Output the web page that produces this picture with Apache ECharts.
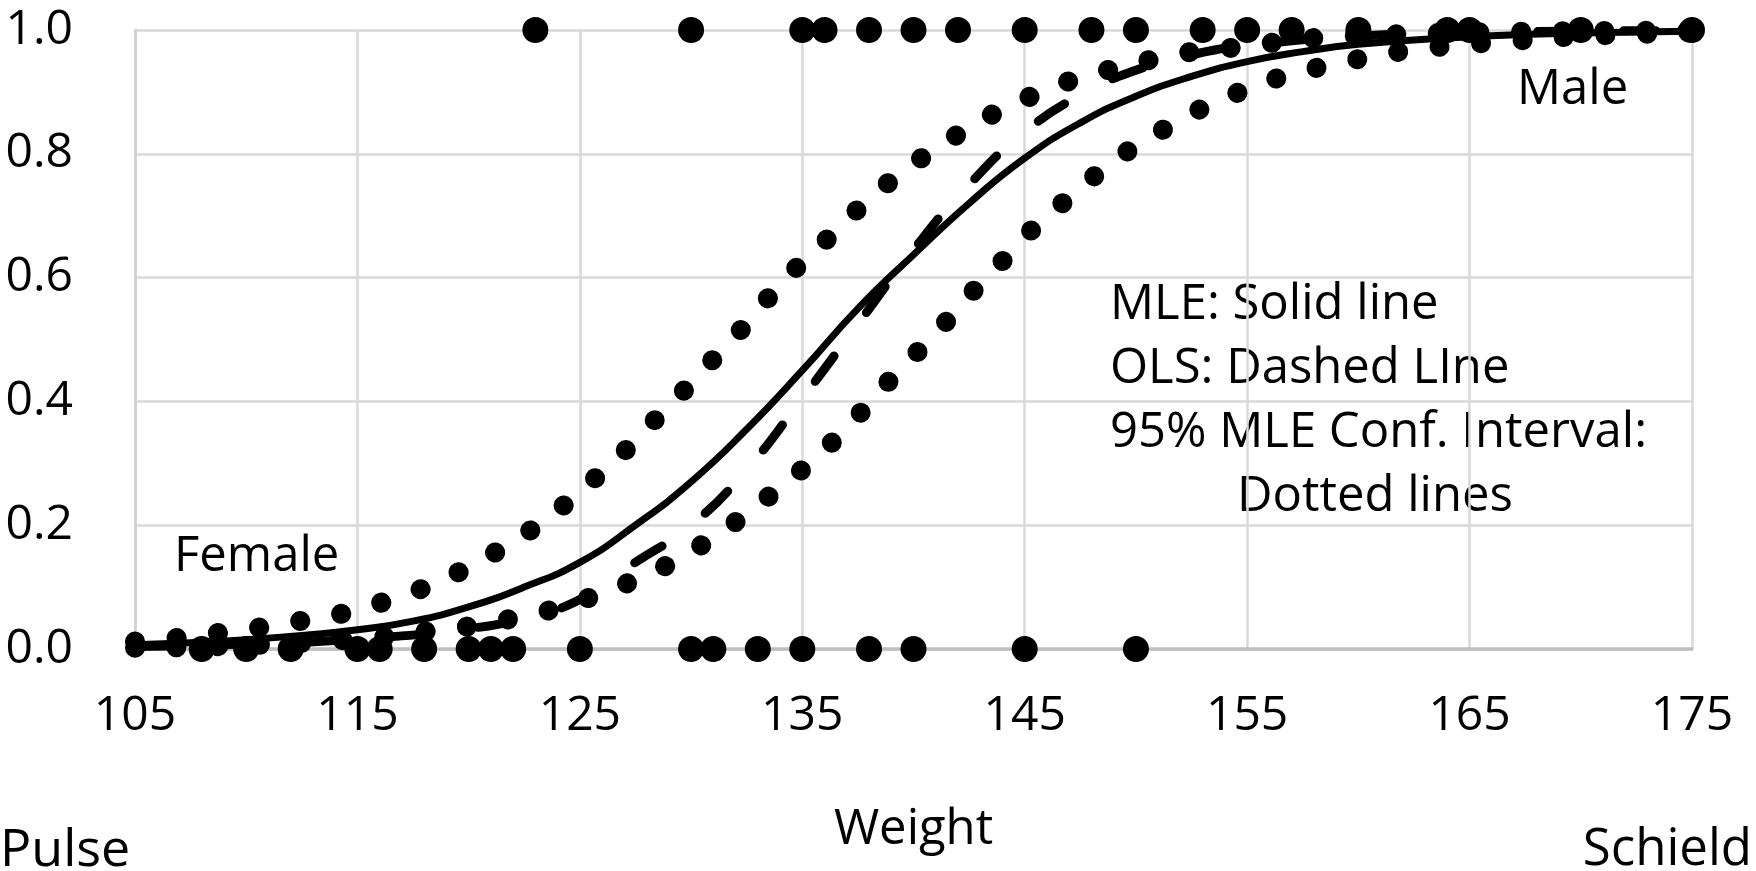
<!DOCTYPE html>
<html>
<head>
<meta charset="utf-8">
<script src="https://cdn.jsdelivr.net/npm/echarts@6.0.0/dist/echarts.min.js"></script>
<style>
  html, body { margin: 0; padding: 0; background: #fff; }
  #chart { width: 1756px; height: 871px; }
</style>
</head>
<body>
<div id="chart"></div>
<script>
// tick labels
const xTicks = [105, 115, 125, 135, 145, 155, 165, 175];

// observed cases, weight at 0 (female) and 1 (male)
const femaleWeights = [108, 110, 112, 115, 116, 118, 120, 121, 122, 125, 130, 131, 133, 135, 138, 140, 145, 150];
const maleWeights = [123, 130, 135, 136, 138, 140, 142, 145, 148, 150, 153, 155, 157, 160, 164, 165, 170, 175];

// MLE fit (solid)
const mleX = [105, 107.5, 110, 112.5, 115, 117.5, 120, 122.5, 125, 127.5, 130, 132.5, 135, 137.5, 140, 142.5, 145, 147.5, 150, 152.5, 155, 157.5, 160, 165, 170, 175];
const mleY = [0.007, 0.01, 0.015, 0.022, 0.031, 0.045, 0.068, 0.1, 0.14, 0.2, 0.27, 0.355, 0.45, 0.55, 0.637, 0.72, 0.793, 0.85, 0.893, 0.925, 0.949, 0.965, 0.977, 0.989, 0.995, 0.998];

// OLS fit (dashed)
const olsX = [105, 110, 115, 120, 122.5, 125, 127.5, 130, 132.5, 135, 137.5, 140, 142.5, 145, 147.5, 150, 152.5, 155, 160, 165, 175];
const olsY = [0.004, 0.008, 0.016, 0.033, 0.05, 0.08, 0.14, 0.2, 0.29, 0.405, 0.525, 0.645, 0.75, 0.835, 0.895, 0.935, 0.96, 0.975, 0.99, 0.996, 0.999];

// 95% MLE confidence interval (dotted)
const ciUpperX = [105, 106.4, 108.3, 110.1, 112, 113.9, 115.7, 117.5, 119.2, 120.9, 122.5, 124, 125.4, 126.8, 128.1, 129.4, 130.7, 132, 133.2, 134.4, 135.8, 137.1, 138.5, 140, 141.5, 143.1, 144.8, 146.5, 148.4, 150.2, 152, 154, 155.8, 157.7, 159.5, 165, 175];
const ciUpperY = [0.012, 0.016, 0.024, 0.032, 0.043, 0.054, 0.071, 0.092, 0.118, 0.15, 0.185, 0.224, 0.267, 0.312, 0.36, 0.407, 0.457, 0.506, 0.556, 0.604, 0.651, 0.697, 0.742, 0.784, 0.82, 0.855, 0.885, 0.911, 0.932, 0.948, 0.962, 0.97, 0.978, 0.986, 0.99, 0.996, 0.999];
const ciLowerX = [105, 110, 115, 118, 121.5, 125, 128.6, 130.3, 131.8, 133.3, 134.8, 136.2, 137.5, 138.7, 140, 141.3, 142.5, 143.8, 145, 146.4, 147.8, 149.3, 150.9, 152.5, 154.2, 156, 157.8, 159.7, 161.5, 163.4, 165.3, 167.2, 170, 175];
const ciLowerY = [0.002, 0.006, 0.016, 0.028, 0.046, 0.078, 0.13, 0.164, 0.2, 0.241, 0.284, 0.329, 0.377, 0.425, 0.473, 0.522, 0.571, 0.619, 0.666, 0.711, 0.754, 0.796, 0.832, 0.865, 0.893, 0.918, 0.936, 0.951, 0.963, 0.972, 0.978, 0.983, 0.99, 0.996];

function zip(xs, ys) {
  return xs.map(function (x, i) { return [x, ys[i]]; });
}

const font = 'Open Sans';
const txt = { fontFamily: font, fontSize: 49, fill: '#000' };
const dotted = { color: '#000', width: 20, type: [0.1, 41.5], cap: 'round' };

var myChart = echarts.init(document.getElementById('chart'));
var option = {
  animation: false,
  backgroundColor: '#fff',
  grid: { left: 135, right: 64, top: 30, bottom: 222 },
  xAxis: {
    type: 'value',
    min: 105,
    max: 175,
    name: 'Weight',
    nameLocation: 'middle',
    nameGap: 157,
    nameTextStyle: { fontFamily: font, fontSize: 49, color: '#000' },
    axisLine: { show: true, lineStyle: { color: '#bfbfbf', width: 3.5 } },
    axisTick: { show: false, customValues: xTicks },
    axisLabel: { customValues: xTicks, margin: 43, fontFamily: font, fontSize: 48, color: '#000' },
    splitLine: { show: true, lineStyle: { color: '#d9d9d9', width: 2.5 } }
  },
  yAxis: {
    type: 'value',
    min: 0,
    max: 1,
    interval: 0.2,
    axisLine: { show: true, lineStyle: { color: '#d0d0d0', width: 2.5 } },
    axisTick: { show: false },
    axisLabel: {
      margin: 62,
      fontFamily: font,
      fontSize: 48,
      color: '#000',
      formatter: function (v) { return v.toFixed(1); }
    },
    splitLine: { show: true, lineStyle: { color: '#d9d9d9', width: 2.5 } }
  },
  series: [
    {
      type: 'line', data: zip(ciUpperX, ciUpperY), smooth: 0.5,
      showSymbol: false, lineStyle: dotted, z: 3
    },
    {
      type: 'line', data: zip(ciLowerX, ciLowerY), smooth: 0.5,
      showSymbol: false, lineStyle: dotted, z: 3
    },
    {
      type: 'line', data: zip(olsX, olsY), smooth: 0.5,
      showSymbol: false, lineStyle: { color: '#000', width: 9, type: [32, 54], cap: 'round' }, z: 3
    },
    {
      type: 'line', data: zip(mleX, mleY), smooth: 0.5,
      showSymbol: false, lineStyle: { color: '#000', width: 7 }, z: 4
    },
    {
      type: 'scatter', data: femaleWeights.map(function (w) { return [w, 0]; }),
      symbolSize: 26, itemStyle: { color: '#000', opacity: 1 }, clip: false, z: 5
    },
    {
      type: 'scatter', data: maleWeights.map(function (w) { return [w, 1]; }),
      symbolSize: 26, itemStyle: { color: '#000', opacity: 1 }, clip: false, z: 5
    }
  ],
  graphic: [
    { type: 'text', left: 174, top: 533, style: Object.assign({ text: 'Female' }, txt) },
    { type: 'text', left: 1517, top: 66, style: Object.assign({ text: 'Male' }, txt) },
    { type: 'text', left: 1110, top: 281, style: Object.assign({ text: 'MLE: Solid line' }, txt) },
    { type: 'text', left: 1110, top: 345, style: Object.assign({ text: 'OLS: Dashed LIne' }, txt) },
    { type: 'text', left: 1110, top: 409, style: Object.assign({ text: '95% MLE Conf. Interval:' }, txt) },
    { type: 'text', left: 1237, top: 473, style: Object.assign({ text: 'Dotted lines' }, txt) },
    { type: 'text', left: 0, top: 825, style: Object.assign({ text: 'Pulse' }, txt, { fontSize: 52 }) },
    { type: 'text', right: 4, top: 825, style: Object.assign({ text: 'Schield' }, txt, { fontSize: 51 }) }
  ]
};
myChart.setOption(option, true);
</script>
</body>
</html>
